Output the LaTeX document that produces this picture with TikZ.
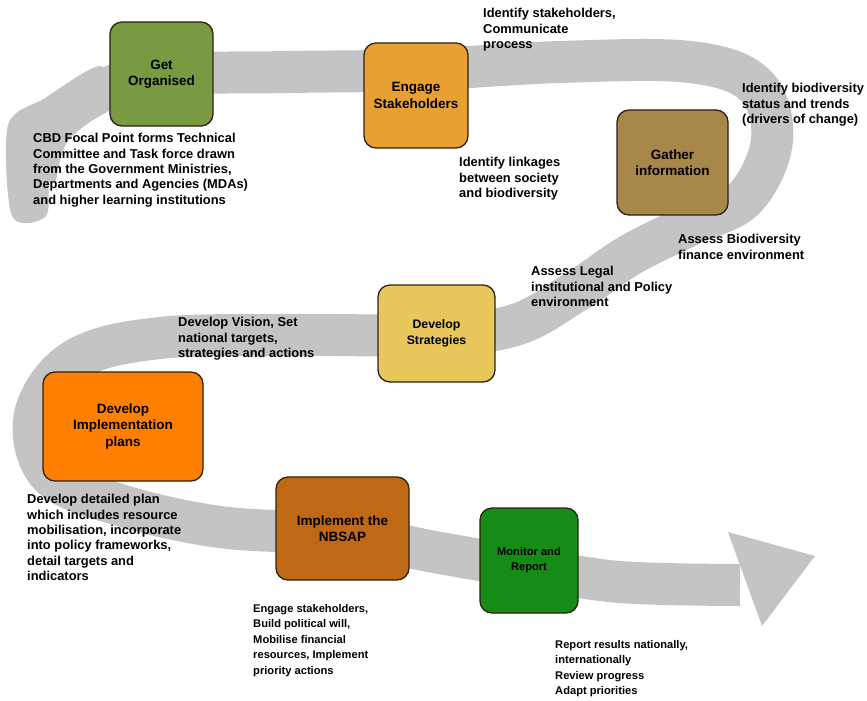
\documentclass[tikz,border=0pt]{standalone}
\usepackage{fontspec}
\setmainfont{Liberation Sans}

\definecolor{orggreen}{HTML}{789A43}
\definecolor{engorange}{HTML}{E8A033}
\definecolor{gathertan}{HTML}{A8874A}
\definecolor{strategyellow}{HTML}{E8C85C}
\definecolor{planorange}{HTML}{FF8000}
\definecolor{nbsapbrown}{HTML}{C06914}
\definecolor{monitorgreen}{HTML}{158C15}
\definecolor{brushgrey}{HTML}{C4C4C4}

\begin{document}
\begin{tikzpicture}[x=0.03cm,y=-0.03cm,
    stagebox/.style={draw=black!75!brown,line width=1.1pt,rounded corners=0.36cm,
      align=center,inner sep=2pt,font=\fontsize{11.5}{14}\selectfont\bfseries},
    note/.style={anchor=north west,inner sep=0pt,align=left,
      font=\fontsize{11}{13.2}\selectfont\bfseries},
    smallnote/.style={note,font=\fontsize{9.5}{13.2}\selectfont\bfseries},
    band/.style={draw=brushgrey,line width=1.26cm,line join=round}]
  \useasboundingbox (0,0) rectangle (867,701);
  % grey brush stroke behind the stages
  \fill [brushgrey] plot [smooth cycle] coordinates {(8,125) (45,98) (100,66)
    (112,100) (70,122) (50,170) (46,216) (12,216)};
  \draw [band] plot [smooth,tension=0.6] coordinates {(35,180) (50,130) (100,92)
    (161,75) (290,72) (416,70) (560,62) (690,62) (755,85) (772,140) (745,198)
    (690,225) (630,255) (575,292) (515,325) (436,335) (300,335) (160,338)
    (75,360) (35,415) (50,475) (120,505) (220,527) (342,535) (440,553)
    (529,568) (620,582) (740,585)};
  \fill [brushgrey] (728,532) -- (815,556) -- (762,626) -- cycle;

  % stages
  \node (org) [stagebox,fill=orggreen,minimum width=3.09cm,minimum height=3.12cm]
    at (161.5,74) {Get\\Organised};
  \node (engage) [stagebox,fill=engorange,minimum width=3.12cm,minimum height=3.15cm]
    at (416,95.5) {Engage\\Stakeholders};
  \node (gather) [stagebox,fill=gathertan,minimum width=3.33cm,minimum height=3.15cm]
    at (672.5,162.5) {Gather\\information};
  \node (strategy) [stagebox,fill=strategyellow,minimum width=3.51cm,minimum height=2.91cm,
    font=\fontsize{10.5}{14}\selectfont\bfseries] at (436.5,333.5) {Develop\\Strategies};
  \node (plans) [stagebox,fill=planorange,minimum width=4.8cm,minimum height=3.27cm]
    at (123,426.5) {Develop\\Implementation\\plans};
  \node (nbsap) [stagebox,fill=nbsapbrown,minimum width=3.99cm,minimum height=3.09cm]
    at (342.5,528.5) {Implement the\\NBSAP};
  \node (monitor) [stagebox,fill=monitorgreen,minimum width=2.94cm,minimum height=3.15cm,
    font=\fontsize{9.5}{13}\selectfont\bfseries] at (529,560.5) {Monitor and\\Report};

  % notes
  \node (cbdnote) [note] at (33,133) {CBD Focal Point forms Technical\\Committee and Task force drawn\\from the Government Ministries,\\Departments and Agencies (MDAs)\\and higher learning institutions};
  \node (engnote) [note] at (483,8) {Identify stakeholders,\\Communicate\\process};
  \node (statusnote) [note] at (742,83) {Identify biodiversity\\status and trends\\(drivers of change)};
  \node (linknote) [note] at (459,157) {Identify linkages\\between society\\and biodiversity};
  \node (financenote) [note] at (678,234) {Assess Biodiversity\\finance environment};
  \node (legalnote) [note] at (531,266) {Assess Legal\\institutional and Policy\\environment};
  \node (visionnote) [note] at (178,317) {Develop Vision, Set\\national targets,\\strategies and actions};
  \node (plannote) [note] at (27,494) {Develop detailed plan\\which includes resource\\mobilisation, incorporate\\into policy frameworks,\\detail targets and\\indicators};
  \node (nbsapnote) [smallnote] at (253,604) {Engage stakeholders,\\Build political will,\\Mobilise financial\\resources, Implement\\priority actions};
  \node (reportnote) [smallnote] at (555,640) {Report results nationally,\\internationally\\Review progress\\Adapt priorities};
\end{tikzpicture}
\end{document}
